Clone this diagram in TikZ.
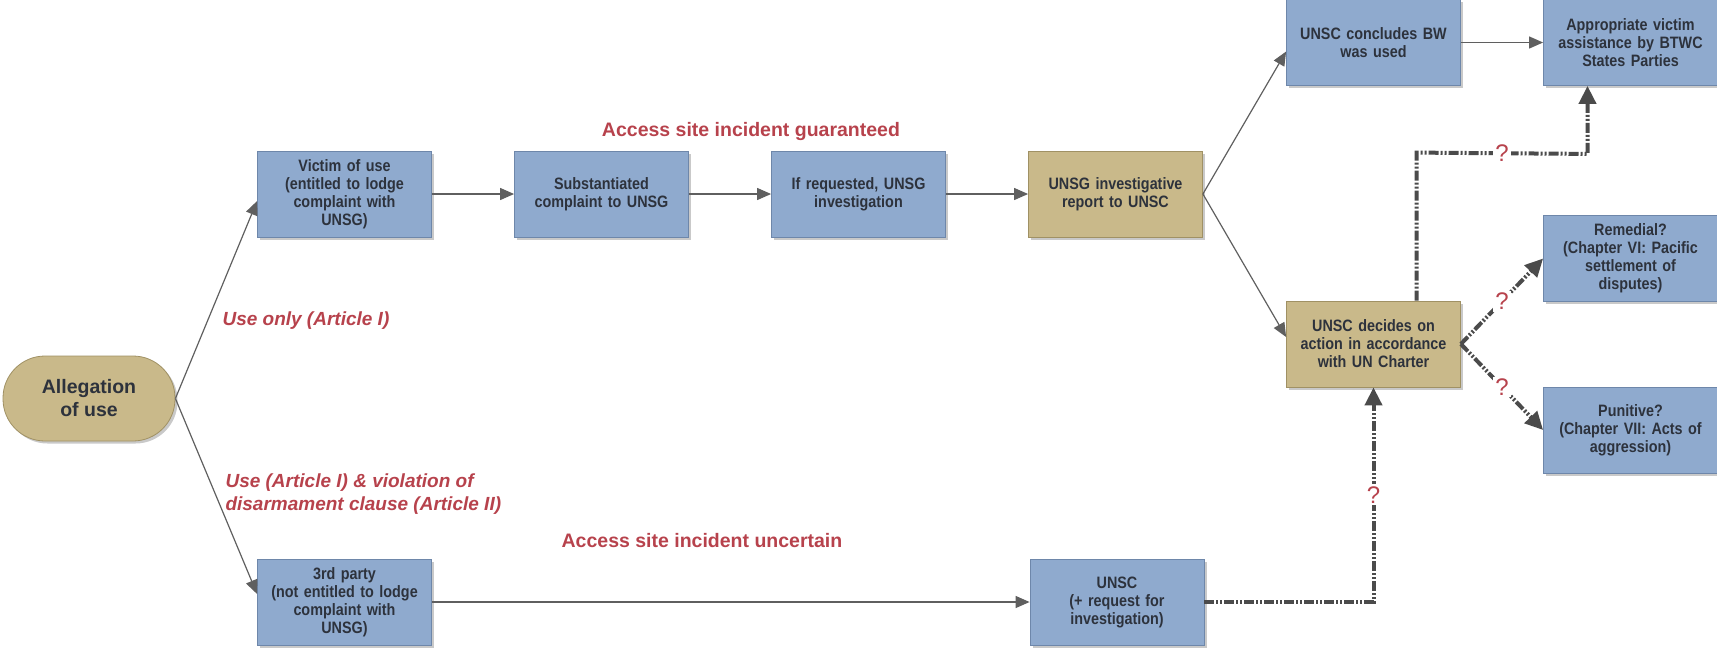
\documentclass[tikz,border=0pt]{standalone}
\usepackage{fontspec}
\setmainfont{Liberation Sans}
\newfontfamily\boxfont{Liberation Sans}[FakeStretch=0.87]
\usetikzlibrary{arrows.meta,shadows,calc}
\definecolor{boxblue}{RGB}{143,170,206}
\definecolor{blueedge}{RGB}{110,135,170}
\definecolor{boxtan}{RGB}{201,185,138}
\definecolor{tanedge}{RGB}{160,145,100}
\definecolor{txt}{RGB}{45,50,60}
\definecolor{lab}{RGB}{183,66,76}
\definecolor{lin}{RGB}{95,95,95}
\definecolor{dlin}{RGB}{75,75,75}
\tikzset{
  base/.style={minimum width=173pt,minimum height=86pt,inner sep=2pt,align=center,
    text=txt,font=\boxfont\fontsize{16.5}{18}\selectfont\bfseries,line width=0.8pt,
    drop shadow={shadow xshift=2.5pt,shadow yshift=-2.5pt,opacity=0.3,fill=black!70}},
  bluebox/.style={base,draw=blueedge,fill=boxblue,text width=170pt},
  tanbox/.style={base,draw=tanedge,fill=boxtan,text width=170pt},
  lbl/.style={text=lab,font=\fontsize{19.5}{22}\selectfont\bfseries},
  ilbl/.style={text=lab,font=\fontsize{19}{23}\selectfont\bfseries\itshape},
  qm/.style={text=lab,font=\fontsize{24}{24}\selectfont,fill=white,inner sep=2pt},
  solidarrow/.style={draw=lin,line width=1.2pt,-{Triangle[length=14pt,width=12pt]},color=lin},
  dasharrow/.style={draw=dlin,line width=4pt,
    dash pattern=on 10pt off 2pt on 2pt off 2pt on 2pt off 2pt,
    -{Triangle[length=18pt,width=17pt]}},
}
\begin{document}
\begin{tikzpicture}[x=1pt,y=-1pt]
\useasboundingbox (0,0) rectangle (1717,649);
% nodes
\node[base,draw=tanedge,fill=boxtan,rounded corners=42pt,minimum width=172pt,minimum height=85pt,
  font=\fontsize{19.5}{23}\selectfont\bfseries] (alleg) at (89,398.5) {Allegation\\of use};
\node[bluebox] (victim) at (344.5,194) {Victim of use\\(entitled to lodge\\complaint with\\UNSG)};
\node[bluebox] (subst) at (601.5,194) {Substantiated\\complaint to UNSG};
\node[bluebox] (ifreq) at (858.5,194) {If requested, UNSG\\investigation};
\node[tanbox] (report) at (1115.5,194) {UNSG investigative\\report to UNSC};
\node[bluebox] (concl) at (1373.5,42.5) {UNSC concludes BW\\was used};
\node[bluebox] (approp) at (1630.5,42.5) {Appropriate victim\\assistance by BTWC\\States Parties};
\node[bluebox] (remed) at (1630.5,258.5) {Remedial?\\(Chapter VI: Pacific\\settlement of\\disputes)};
\node[tanbox] (decide) at (1373.5,344) {UNSC decides on\\action in accordance\\with UN Charter};
\node[bluebox] (punit) at (1630.5,430) {Punitive?\\(Chapter VII: Acts of\\aggression)};
\node[bluebox] (third) at (344.5,602) {3rd party\\(not entitled to lodge\\complaint with\\UNSG)};
\node[bluebox] (unsc) at (1117,602) {UNSC\\(+ request for\\investigation)};
% labels
\node[lbl] (lg) at (751,131) {Access site incident guaranteed};
\node[lbl] (lu) at (702,541) {Access site incident uncertain};
\node[ilbl,anchor=west] (luse) at (219,321) {Use only (Article I)};
\node[ilbl,anchor=west,align=left] (luse2) at (222,494.5) {Use (Article I) \& violation of\\disarmament clause (Article II)};
% solid connectors
\draw[solidarrow] (alleg.east) -- ([yshift=-7pt]victim.west);
\draw[solidarrow] (alleg.east) -- ([yshift=8pt]third.west);
\draw[solidarrow] (victim) -- (subst);
\draw[solidarrow] (subst) -- (ifreq);
\draw[solidarrow] (ifreq) -- (report);
\draw[solidarrow] (report.east) -- ([yshift=-9pt]concl.west);
\draw[solidarrow] (report.east) -- ([yshift=7pt]decide.west);
\draw[solidarrow] (concl) -- (approp);
\draw[solidarrow] (third) -- (unsc);
% dash-dot connectors
\coordinate (d1) at ($(decide.north)+(43,0)$);
\coordinate (a1) at ($(approp.south)+(-43,0)$);
\coordinate (k1) at ($(d1)+(0,-148)$);
\coordinate (k2) at ($(a1)+(0,68)$);
\draw[dasharrow] (d1) -- (k1) -- node[qm] {?} (k2) -- (a1);
\draw[dasharrow] (decide.east) -- node[qm] {?} (remed.west);
\draw[dasharrow] (decide.east) -- node[qm] {?} (punit.west);
\draw[dasharrow] (unsc.east) -| node[qm,pos=0.75] {?} (decide.south);
\end{tikzpicture}
\end{document}
